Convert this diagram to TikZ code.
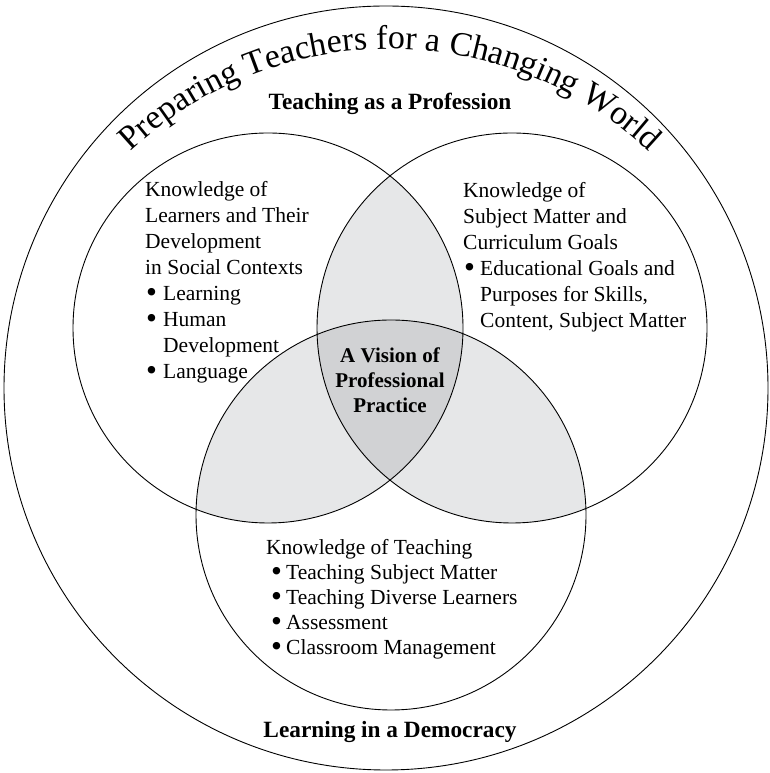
\documentclass[tikz,border=0pt]{standalone}
\usepackage{fontspec}
\setmainfont{Liberation Serif}
\usetikzlibrary{decorations.text}

\definecolor{pairgray}{RGB}{230,231,232}
\definecolor{coregray}{RGB}{209,210,212}

\newcommand{\bodysize}{\fontsize{21.5}{26}\selectfont}
\newcommand{\headsize}{\fontsize{23.3}{27}\selectfont\bfseries}
\newcommand{\titlesize}{\fontsize{34}{34}\selectfont}
\newcommand{\bul}[1]{\makebox[#1][l]{\raisebox{-1.6pt}{\scalebox{1.45}{\textbullet}}}}

\begin{document}
\begin{tikzpicture}[x=1pt,y=1pt,
  ring/.style={draw=black, line width=0.9pt},
  pairfill/.style={fill=pairgray},
  corefill/.style={fill=coregray},
  bodytext/.style={inner sep=0pt, font=\bodysize},
  centertext/.style={inner sep=0pt, font=\fontsize{21}{25}\selectfont\bfseries},
  headtext/.style={inner sep=0pt, font=\headsize}]

\useasboundingbox (0,0) rectangle (769,773);

% centres of the outer ring and the three knowledge circles
\coordinate (cO) at (386,385);
\coordinate (cL) at (268,445);
\coordinate (cR) at (512,445);
\coordinate (cB) at (391,258);
\def\rr{195}

% pairwise overlaps
\begin{scope}
  \clip (cL) circle[radius=\rr];
  \fill[pairfill] (cR) circle[radius=\rr];
  \fill[pairfill] (cB) circle[radius=\rr];
\end{scope}
\begin{scope}
  \clip (cR) circle[radius=\rr];
  \fill[pairfill] (cB) circle[radius=\rr];
\end{scope}
% overlap of all three
\begin{scope}
  \clip (cL) circle[radius=\rr];
  \clip (cR) circle[radius=\rr];
  \fill[corefill] (cB) circle[radius=\rr];
\end{scope}

\draw[ring] (cO) circle[radius=382];
\draw[ring] (cL) circle[radius=\rr];
\draw[ring] (cR) circle[radius=\rr];
\draw[ring] (cB) circle[radius=\rr];

% curved title
\coordinate (cT) at (390,346);
\path[decorate, decoration={text along path, text align=center,
    text={|\titlesize|Preparing Teachers for a Changing World}}]
  (cT) ++(133:378) arc[start angle=133, end angle=47, radius=378];

\node[headtext, anchor=base] (prof) at (390,663) {Teaching as a Profession};
\node[headtext, anchor=base] (demo) at (390,35) {Learning in a Democracy};

\node[bodytext, anchor=base west] (learners) at (145,576) {%
  \begin{tabular}[t]{@{}l@{}}
  Knowledge of\\
  Learners and Their\\
  Development\\
  in Social Contexts\\
  \hspace{1pt}\bul{17pt}Learning\\
  \hspace{1pt}\bul{17pt}Human\\
  \hspace{18pt}Development\\
  \hspace{1pt}\bul{17pt}Language
  \end{tabular}};

\node[bodytext, anchor=base west] (subject) at (463,575) {%
  \begin{tabular}[t]{@{}l@{}}
  Knowledge of\\
  Subject Matter and\\
  Curriculum Goals\\
  \hspace{1pt}\bul{16pt}Educational Goals and\\
  \hspace{17pt}Purposes for Skills,\\
  \hspace{17pt}Content, Subject Matter
  \end{tabular}};

\node[bodytext, anchor=base west, font=\fontsize{21.5}{25}\selectfont] (teaching) at (266,218) {%
  \begin{tabular}[t]{@{}l@{}}
  Knowledge of Teaching\\
  \hspace{5pt}\bul{15pt}Teaching Subject Matter\\
  \hspace{5pt}\bul{15pt}Teaching Diverse Learners\\
  \hspace{5pt}\bul{15pt}Assessment\\
  \hspace{5pt}\bul{15pt}Classroom Management
  \end{tabular}};

\node[centertext, anchor=base] (vision) at (390,410) {%
  \begin{tabular}[t]{@{}c@{}}
  A Vision of\\
  Professional\\
  Practice
  \end{tabular}};

\end{tikzpicture}
\end{document}
